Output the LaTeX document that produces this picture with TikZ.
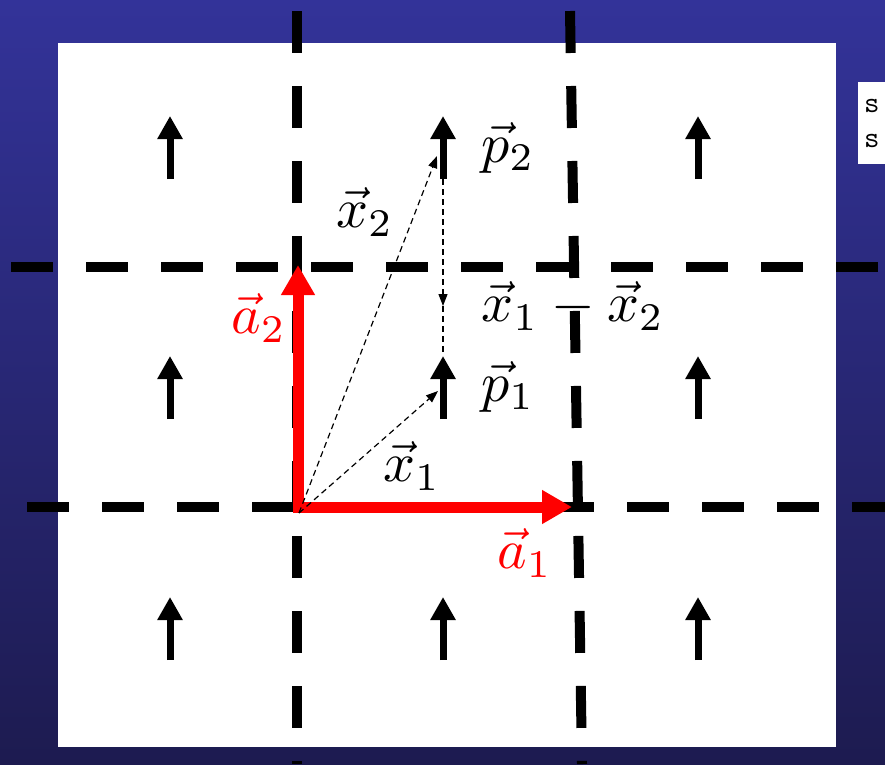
\documentclass[tikz,border=0pt]{standalone}
\usetikzlibrary{arrows.meta}
\definecolor{bgtop}{RGB}{51,51,153}
\definecolor{bgbot}{RGB}{29,27,80}
\begin{document}
\begin{tikzpicture}[x=1pt,y=-1pt,
  grid/.style={line width=10pt, dash pattern=on 42pt off 33pt},
  latvec/.style={red, line width=11pt, line cap=rect, -{Triangle[length=30pt,width=32pt]}},
  spin/.style={line width=7pt, -{Triangle[length=23pt,width=24pt]}},
  thindash/.style={line width=1.2pt, dash pattern=on 6pt off 4pt},
  thinarrow/.style={thindash, -{Triangle[length=12pt,width=9pt]}},
  lab/.style={scale=5.6, inner sep=0pt},
  side/.style={anchor=base west, font=\ttfamily\fontsize{30}{30}\selectfont, inner sep=0pt}]
\useasboundingbox (0,0) rectangle (885,764);
\shade[top color=bgtop, bottom color=bgbot] (0,0) rectangle (885,764);
\fill[white] (58,43) rectangle (836,747);
\fill[white] (858,82) rectangle (885,164);
\node[side] (s1) at (864,112) {s:};
\node[side] (s2) at (864,147) {s:};
% dashed grid
\draw[grid] (11,267) -- (885,267);
\draw[grid] (27,507) -- (885,507);
\draw[grid] (297,11) -- (297,764);
\draw[grid] (570,11) -- (582,764);
% spins
\foreach \c/\x in {l/170,m/443,r/698}{
  \foreach \r/\yb in {t/179,c/419,b/660}{
    \coordinate (s\c\r0) at (\x,\yb);
    \coordinate (s\c\r1) at (\x,\yb-63);
    \draw[spin] (s\c\r0) -- (s\c\r1);
  }
}
% lattice vectors
\coordinate (O) at (298,507);
\coordinate (A1) at (572,507);
\coordinate (A2) at (298,265);
\draw[latvec] (O) -- (A1);
\draw[latvec] (O) -- (A2);
% position vectors
\coordinate (O2) at (299,513);
\coordinate (X1) at (438,391);
\coordinate (X2) at (437,156);
\draw[thinarrow] (O2) -- (X1);
\draw[thinarrow] (O2) -- (X2);
\coordinate (D1) at (443,179);
\coordinate (D2) at (443,306);
\coordinate (D3) at (443,354);
\draw[thinarrow] (D1) -- (D2);
\draw[thindash] (D2) -- (D3);
% labels
\node[lab] (lx2) at (365,212) {$\vec{x}_2$};
\node[lab] (lp2) at (508,148) {$\vec{p}_2$};
\node[lab] (ldiff) at (573,306) {$\vec{x}_1-\vec{x}_2$};
\node[lab] (lp1) at (508,387) {$\vec{p}_1$};
\node[lab] (lx1) at (412,466) {$\vec{x}_1$};
\node[lab,red] (la1) at (525,553) {$\vec{a}_1$};
\node[lab,red] (la2) at (259,318) {$\vec{a}_2$};
\end{tikzpicture}
\end{document}
